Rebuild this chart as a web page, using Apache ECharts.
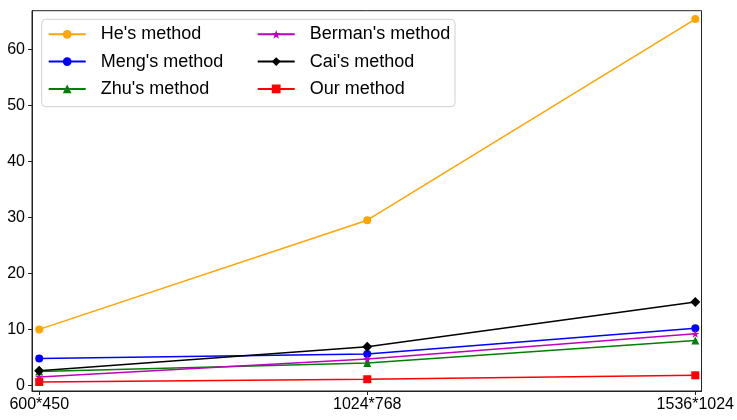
<!DOCTYPE html>
<html>
<head>
<meta charset="utf-8">
<script src="https://cdn.jsdelivr.net/npm/echarts@6/dist/echarts.min.js"></script>
<style>
  html, body { margin: 0; padding: 0; background: #fff; }
  #main { width: 737px; height: 420px; }
</style>
</head>
<body>
<div id="main"></div>
<script>
// 分辨率类别
var categories = ['600*450', '1024*768', '1536*1024'];

// 各方法耗时
var heData     = [10.0, 29.5, 65.4];
var mengData   = [4.8, 5.6, 10.2];
var zhuData    = [2.5, 4.0, 8.0];
var bermanData = [1.5, 4.7, 9.2];
var caiData    = [2.6, 6.9, 14.9];
var ourData    = [0.6, 1.1, 1.8];

var yTicks = [0, 10, 20, 30, 40, 50, 60];

function pairs(arr) {
  return arr.map(function (v, i) { return [i, v]; });
}

function makeSeries(name, data, color, symbol, size) {
  return {
    name: name,
    type: 'line',
    data: pairs(data),
    symbol: symbol,
    symbolSize: size,
    showSymbol: true,
    animation: false,
    lineStyle: { color: color, width: 1.5 },
    itemStyle: { color: color }
  };
}

var myChart = echarts.init(document.getElementById('main'));

var fontFamily = 'Liberation Sans, Arial, sans-serif';

var option = {
  animation: false,
  grid: {
    left: 32, right: 35, top: 10.7, bottom: 29,
    show: true,
    borderColor: '#222',
    borderWidth: 1
  },
  xAxis: {
    type: 'value',
    min: -0.022,
    max: 2.019,
    splitLine: { show: false },
    axisLine: { onZero: false, lineStyle: { color: '#222' } },
    axisTick: { customValues: [0, 1, 2], length: 4, lineStyle: { color: '#222' } },
    axisLabel: {
      customValues: [0, 1, 2],
      formatter: function (v) { return categories[Math.round(v)]; },
      color: '#000',
      fontSize: 16,
      fontFamily: fontFamily,
      margin: 6
    }
  },
  yAxis: {
    type: 'value',
    min: -1.0,
    max: 66.9,
    splitLine: { show: false },
    axisLine: { show: true, onZero: false, lineStyle: { color: '#222' } },
    axisTick: { show: true, customValues: yTicks, length: 4, lineStyle: { color: '#222' } },
    axisLabel: {
      customValues: yTicks,
      color: '#000',
      fontSize: 16,
      fontFamily: fontFamily,
      margin: 7
    }
  },
  graphic: [{
    type: 'rect',
    z: 0,
    shape: { x: 41.7, y: 19.3, width: 413.3, height: 87.4, r: 4 },
    style: { fill: 'rgba(255,255,255,0.8)', stroke: '#d0d0d0', lineWidth: 1 }
  }],
  legend: [
    {
      data: ["He's method", "Meng's method", "Zhu's method"],
      orient: 'vertical',
      left: 47.7,
      top: 25.3,
      padding: 0,
      itemWidth: 37,
      itemHeight: 11,
      itemGap: 9.3,
      textStyle: { fontSize: 18, lineHeight: 18, color: '#000', fontFamily: fontFamily, padding: [0, 0, 0, 10] }
    },
    {
      data: ["Berman's method", "Cai's method", "Our method"],
      orient: 'vertical',
      left: 256.7,
      top: 25.3,
      padding: 0,
      itemWidth: 37,
      itemHeight: 11,
      itemGap: 9.3,
      textStyle: { fontSize: 18, lineHeight: 18, color: '#000', fontFamily: fontFamily, padding: [0, 0, 0, 10] }
    }
  ],
  series: [
    makeSeries("He's method", heData, '#FFA500', 'circle', 8),
    makeSeries("Meng's method", mengData, '#0000FF', 'circle', 8),
    makeSeries("Zhu's method", zhuData, '#008000', 'triangle', 8),
    makeSeries("Berman's method", bermanData, '#BF00BF', 'path://M0,-10L2.35,-3.24L9.51,-3.09L3.8,1.24L5.88,8.09L0,4L-5.88,8.09L-3.8,1.24L-9.51,-3.09L-2.35,-3.24Z', 8),
    makeSeries("Cai's method", caiData, '#000000', 'diamond', 10),
    makeSeries('Our method', ourData, '#FF0000', 'rect', 8)
  ]
};

myChart.setOption(option);

window.addEventListener('resize', function () {
  myChart.resize();
});
</script>
</body>
</html>
